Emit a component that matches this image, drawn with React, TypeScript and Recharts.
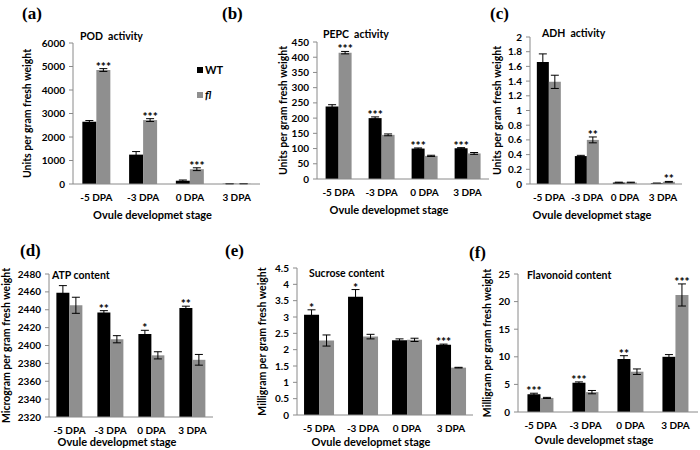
import { BarChart, Bar, XAxis, YAxis, ErrorBar, LabelList, Label, Legend } from 'recharts';

const stages = ['-5 DPA', '-3 DPA', '0 DPA', '3 DPA'];

// (a) POD activity
const podWT = [2650, 1250, 140, 10];
const podWTErr = [50, 130, 30, 5];
const podFL = [4850, 2720, 630, 12];
const podFLErr = [60, 60, 60, 5];
const podWTSig = ['', '', '', ''];
const podFLSig = ['***', '***', '***', ''];
const podTicks = [0, 1000, 2000, 3000, 4000, 5000, 6000];

// (b) PEPC activity
const pepcWT = [238, 200, 100, 101];
const pepcWTErr = [6, 4, 2, 2];
const pepcFL = [415, 145, 76, 84];
const pepcFLErr = [4, 3, 2, 3];
const pepcWTSig = ['', '***', '***', '***'];
const pepcFLSig = ['***', '', '', ''];
const pepcTicks = [0, 50, 100, 150, 200, 250, 300, 350, 400, 450];

// (c) ADH activity
const adhWT = [1.66, 0.38, 0.02, 0.01];
const adhWTErr = [0.11, 0.01, 0.005, 0.003];
const adhFL = [1.39, 0.6, 0.02, 0.03];
const adhFLErr = [0.09, 0.04, 0.005, 0.005];
const adhWTSig = ['', '', '', ''];
const adhFLSig = ['', '**', '', '**'];
const adhTicks = [0, 0.2, 0.4, 0.6, 0.8, 1, 1.2, 1.4, 1.6, 1.8, 2];

// (d) ATP content
const atpWT = [2459, 2437, 2413, 2442];
const atpWTErr = [8, 2, 4, 2];
const atpFL = [2445, 2407, 2389, 2384];
const atpFLErr = [9, 4, 4, 6];
const atpWTSig = ['', '**', '*', '**'];
const atpFLSig = ['', '', '', ''];
const atpTicks = [2320, 2340, 2360, 2380, 2400, 2420, 2440, 2460, 2480];

// (e) Sucrose content
const sucWT = [3.07, 3.62, 2.29, 2.15];
const sucWTErr = [0.15, 0.22, 0.04, 0.02];
const sucFL = [2.28, 2.4, 2.3, 1.45];
const sucFLErr = [0.17, 0.07, 0.05, 0.01];
const sucWTSig = ['*', '*', '', '***'];
const sucFLSig = ['', '', '', ''];
const sucTicks = [0, 0.5, 1, 1.5, 2, 2.5, 3, 3.5, 4, 4.5];

// (f) Flavonoid content
const flaWT = [3.2, 5.3, 9.6, 10.0];
const flaWTErr = [0.2, 0.15, 0.6, 0.4];
const flaFL = [2.55, 3.6, 7.3, 21.2];
const flaFLErr = [0.1, 0.3, 0.5, 2.0];
const flaWTSig = ['***', '***', '**', ''];
const flaFLSig = ['', '', '', '***'];
const flaTicks = [0, 5, 10, 15, 20, 25];

const FONT = 'Lato, "Open Sans", sans-serif';
const AXIS = '#8a8a8a';
const GREY = '#8f8f8f';

function rows(wt, wtErr, fl, flErr, wtSig, flSig) {
  return stages.map((stage, i) => ({
    stage,
    wt: wt[i],
    wtErr: wtErr[i],
    fl: fl[i],
    flErr: flErr[i],
    wtSig: wtSig[i],
    flSig: flSig[i],
  }));
}

// stars sit just above the error-bar cap
function starLabel(vals, errs, min) {
  return (props: any) => {
    const { index, value } = props;
    if (!value) return null;
    const vb = props.viewBox || props;
    const x = Number(vb.x), y = Number(vb.y), w = Number(vb.width), h = Number(vb.height);
    const errPx = (errs[index] * h) / (vals[index] - min);
    return (
      <text x={x + w / 2} y={y - errPx + 2} textAnchor="middle" fontSize={12} fontWeight={700} fontFamily={FONT} fill="#000">
        {value}
      </text>
    );
  };
}

const legendContent = () => (
  <div style={{ fontFamily: FONT, fontWeight: 700, fontSize: 11, lineHeight: '13px' }}>
    <div style={{ display: 'flex', alignItems: 'center', gap: 2 }}>
      <span style={{ width: 6, height: 6, background: '#000', display: 'inline-block' }} />WT
    </div>
    <div style={{ display: 'flex', alignItems: 'center', gap: 2, marginTop: 12 }}>
      <span style={{ width: 6, height: 6, background: GREY, display: 'inline-block' }} />
      <i>fl</i>
    </div>
  </div>
);

function Panel({ p, data, vals, min }) {
  const xAxisH = 40;
  const width = p.right - p.left + 8;
  const height = p.bottom - p.top + xAxisH;
  const tickStyle = { fontSize: 10, fontWeight: 700, fill: '#000', fontFamily: FONT };
  return (
    <div style={{ position: 'absolute', left: p.left, top: p.top }}>
      <BarChart
        width={width}
        height={height}
        data={data}
        margin={{ top: p.plotTop - p.top, right: 8, left: 0, bottom: 0 }}
        barCategoryGap={p.gap}
        barGap={0}
      >
        <XAxis
          dataKey="stage"
          height={xAxisH}
          tickLine={false}
          tickSize={5}
          tickMargin={5}
          stroke={AXIS}
          tick={tickStyle}
          interval={0}
        >
          <Label value="Ovule developmet stage" position="insideBottom" offset={p.xTitleOff} dx={-14}
            style={{ fontSize: 11, fontWeight: 700, fill: '#000', fontFamily: FONT }} />
        </XAxis>
        <YAxis
          width={p.axisX - p.left}
          domain={[p.ticks[0], p.ticks[p.ticks.length - 1]]}
          ticks={p.ticks}
          interval={0}
          tickSize={4}
          tickMargin={4}
          stroke={AXIS}
          tick={tickStyle}
        >
          <Label value={p.yTitle} angle={-90} position="insideLeft" offset={p.yTitleX - p.left}
            style={{ textAnchor: 'middle', fontSize: 10.5, fontWeight: 700, fill: '#000', fontFamily: FONT, whiteSpace: 'pre' }} />
        </YAxis>
        {p.legend && (
          <Legend layout="vertical" align="center" verticalAlign="middle" content={legendContent}
            wrapperStyle={{ left: 197 - p.left, top: 63 - p.top, width: 40 }} />
        )}
        <Bar dataKey="wt" fill="#000" isAnimationActive={false}>
          <ErrorBar dataKey="wtErr" width={4} stroke="#000" strokeWidth={1} />
          <LabelList dataKey="wtSig" content={starLabel(vals.wt, vals.wtErr, min)} />
        </Bar>
        <Bar dataKey="fl" fill={GREY} isAnimationActive={false}>
          <ErrorBar dataKey="flErr" width={4} stroke="#000" strokeWidth={1} />
          <LabelList dataKey="flSig" content={starLabel(vals.fl, vals.flErr, min)} />
        </Bar>
      </BarChart>
      <span style={{ position: 'absolute', left: p.titleX - p.left, top: p.titleY - p.top, fontFamily: FONT, fontWeight: 700, fontSize: 10.5, whiteSpace: 'pre', lineHeight: '11px' }}>
        {p.title}
      </span>
    </div>
  );
}

const panels = [
  { tag: '(a)', tagX: 22, tagY: 4, left: 0, top: 0, axisX: 73, plotTop: 43, bottom: 184, right: 260, gap: '20%', ticks: podTicks, yTitle: 'Units per gram  fresh weight', yTitleX: 27, title: 'POD  activity', titleX: 80, titleY: 31, legend: true, xTitleOff: 5,
    d: [podWT, podWTErr, podFL, podFLErr, podWTSig, podFLSig] },
  { tag: '(b)', tagX: 222, tagY: 4, left: 232, top: 0, axisX: 317, plotTop: 42, bottom: 179, right: 489, gap: '20%', ticks: pepcTicks, yTitle: 'Units per gram  fresh weight', yTitleX: 283, title: 'PEPC  activity', titleX: 323, titleY: 29, xTitleOff: 5,
    d: [pepcWT, pepcWTErr, pepcFL, pepcFLErr, pepcWTSig, pepcFLSig] },
  { tag: '(c)', tagX: 490, tagY: 4, left: 465, top: 0, axisX: 530, plotTop: 37, bottom: 184, right: 682, gap: '18%', ticks: adhTicks, yTitle: 'Units per gram  fresh weight', yTitleX: 497, title: 'ADH  activity', titleX: 542, titleY: 28, xTitleOff: 5,
    d: [adhWT, adhWTErr, adhFL, adhFLErr, adhWTSig, adhFLSig] },
  { tag: '(d)', tagX: 20, tagY: 241, left: 0, top: 225, axisX: 49, plotTop: 274, bottom: 417, right: 213, gap: '18%', ticks: atpTicks, yTitle: 'Microgram per gram  fresh weight', yTitleX: 6, title: 'ATP content', titleX: 52, titleY: 270, xTitleOff: 11,
    d: [atpWT, atpWTErr, atpFL, atpFLErr, atpWTSig, atpFLSig] },
  { tag: '(e)', tagX: 225, tagY: 241, left: 232, top: 225, axisX: 297, plotTop: 268, bottom: 415, right: 473, gap: '16%', ticks: sucTicks, yTitle: 'Milligram per gram  fresh weight', yTitleX: 262, title: 'Sucrose content', titleX: 309, titleY: 268, xTitleOff: 9,
    d: [sucWT, sucWTErr, sucFL, sucFLErr, sucWTSig, sucFLSig] },
  { tag: '(f)', tagX: 469, tagY: 243, left: 465, top: 225, axisX: 518, plotTop: 274, bottom: 412, right: 698, gap: '21%', ticks: flaTicks, yTitle: 'Milligram per gram  fresh weight', yTitleX: 487, title: 'Flavonoid content', titleX: 527, titleY: 270, xTitleOff: 8,
    d: [flaWT, flaWTErr, flaFL, flaFLErr, flaWTSig, flaFLSig] },
];

export default function App() {
  return (
    <div style={{ position: 'absolute', left: 0, top: 0, width: 700, height: 450, background: '#fff', overflow: 'hidden' }}>
      {panels.map((p) => {
        const [wt, wtErr, fl, flErr, wtSig, flSig] = p.d;
        return (
          <div key={p.tag}>
            <Panel p={p} data={rows(wt, wtErr, fl, flErr, wtSig, flSig)} vals={{ wt, wtErr, fl, flErr }} min={p.ticks[0]} />
            <span style={{ position: 'absolute', left: p.tagX, top: p.tagY, fontFamily: '"Liberation Serif", serif', fontWeight: 700, fontSize: 17, lineHeight: '20px' }}>
              {p.tag}
            </span>
          </div>
        );
      })}
    </div>
  );
}
